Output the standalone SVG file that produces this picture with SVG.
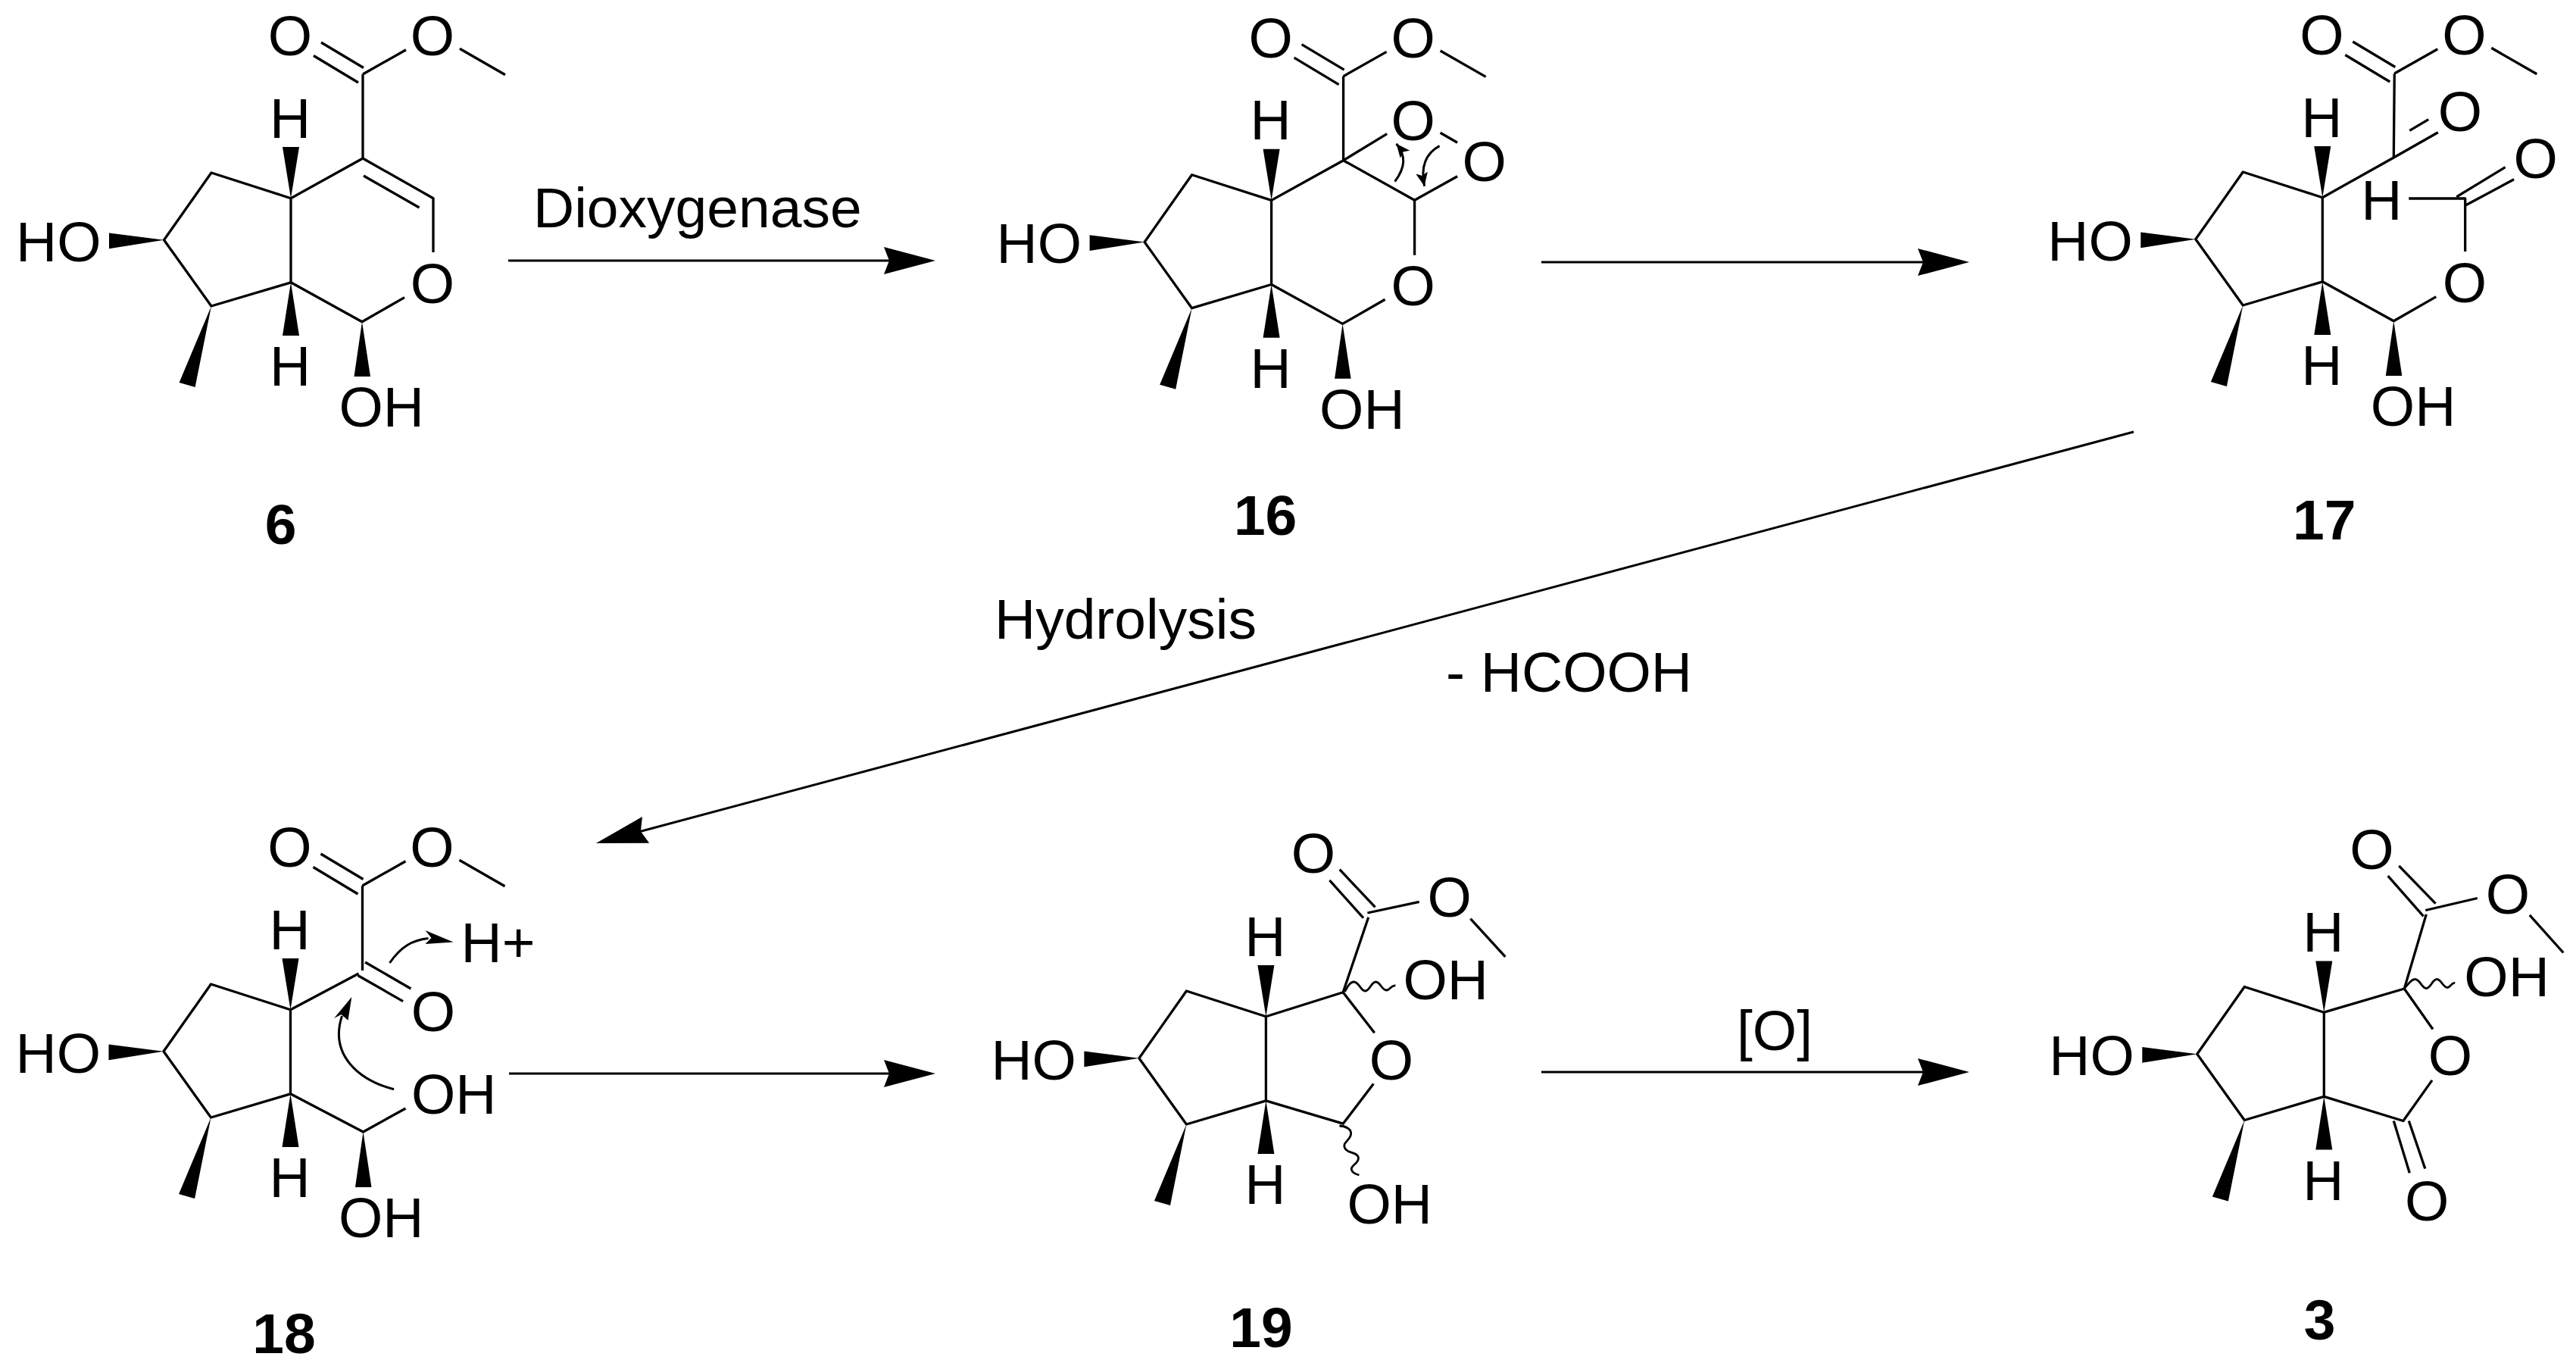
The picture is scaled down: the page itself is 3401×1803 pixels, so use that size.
<svg xmlns="http://www.w3.org/2000/svg" width="3401" height="1803" viewBox="0 0 3401 1803">
<style>
.b{fill:none;stroke:#000;stroke-width:3.3;stroke-linejoin:round}
.w{fill:#000;stroke:none}
.t{font-family:"Liberation Sans",Arial,sans-serif;font-size:75px;fill:#000}
.m{text-anchor:middle}
.n{font-family:"Liberation Sans",Arial,sans-serif;font-size:75px;font-weight:bold;fill:#000;text-anchor:middle}
.c{fill:none;stroke:#000;stroke-width:3}
.r{fill:none;stroke:#000;stroke-width:3.2}
</style>
<defs>
<marker id="head" markerUnits="userSpaceOnUse" markerWidth="72" markerHeight="38" refX="28" refY="18" orient="auto" viewBox="0 0 72 38"><path d="M0,0 L68,18 L0,36 L7,18 Z" fill="#000"/></marker>
<marker id="mini" markerUnits="userSpaceOnUse" markerWidth="20" markerHeight="16" refX="18" refY="8" orient="auto" viewBox="0 0 20 16"><path d="M0,0 L18,8 L0,16 L4,8 Z" fill="#000"/></marker>
</defs>
<rect width="3401" height="1803" fill="#fff"/>

<g id="connectors">
<path class="r" d="M671,344H1195" marker-end="url(#head)"/>
<path class="r" d="M2035,346H2560" marker-end="url(#head)"/>
<path class="r" d="M2817,570L825.600,1102.700" marker-end="url(#head)" style="stroke-width:3"/>
<path class="r" d="M672,1417H1195" marker-end="url(#head)"/>
<path class="r" d="M2035,1415H2560" marker-end="url(#head)"/>
</g>
<g id="reaction-labels">
<text class="t" x="704" y="300">Dioxygenase</text>
<text class="t" x="1313" y="843">Hydrolysis</text>
<text class="t" x="1909" y="913">- HCOOH</text>
<text class="t m" x="2343" y="1386">[O]</text>
</g>

<g id="compound-6" transform="translate(0,0)">
<path class="b" d="M384,261.700L279,228L216.500,316.800L279,404L384,372.800V261.700L479,209L572,261.700V333M480,232L553.500,274M479,98V209M424,56L480,89.500M414,73.500L473,109M479,98L536,65.700M607,64.300L667,98.700M534,392.600L478,424.700L384,372.800"/>
<polygon class="w" points="216.500,316.800 144,307.600 144,328.300"/>
<polygon class="w" points="279,404 236.600,505 257.600,511"/>
<polygon class="w" points="384,261.700 373,194 395,194"/>
<polygon class="w" points="384,372.800 373,443 395,443"/>
<polygon class="w" points="478,424.700 467.500,497 489,497"/>
<text class="t" x="21" y="344.500">HO</text>
<text class="t m" x="383" y="181.500">H</text>
<text class="t m" x="383" y="509">H</text>
<text class="t" x="447.500" y="563">OH</text>
<text class="t m" x="383" y="73">O</text>
<text class="t m" x="571" y="73">O</text>
<text class="t m" x="571" y="400">O</text>
<text class="n" x="370.500" y="718">6</text>
</g>

<g id="compound-16" transform="translate(1294.600,2.700)">
<path class="b" d="M384,261.700L279,228L216.500,316.800L279,404L384,372.800V261.700L479,209L573,261.500V334M479,98V209M424,56L480,89.500M414,73.500L473,109M479,98L536,65.700M607,64.300L667,98.700M534,392.600L478,424.700L384,372.800M479,209L536.600,174M607,172.600L629.500,185.500M573,261.500L629.500,230"/>
<polygon class="w" points="216.500,316.800 144,307.600 144,328.300"/>
<polygon class="w" points="279,404 236.600,505 257.600,511"/>
<polygon class="w" points="384,261.700 373,194 395,194"/>
<polygon class="w" points="384,372.800 373,443 395,443"/>
<polygon class="w" points="478,424.700 467.500,497 489,497"/>
<path class="c" d="M547,237C561,218 562,203 549,187" marker-end="url(#mini)"/>
<path class="c" d="M606,190C587,200 581,218 586,243" marker-end="url(#mini)"/>
<text class="t" x="21" y="344.500">HO</text>
<text class="t m" x="383" y="181.500">H</text>
<text class="t m" x="383" y="509">H</text>
<text class="t" x="447.500" y="563">OH</text>
<text class="t m" x="383" y="73">O</text>
<text class="t m" x="571" y="73">O</text>
<text class="t m" x="571" y="182.400">O</text>
<text class="t m" x="665" y="236.200">O</text>
<text class="t m" x="571" y="400">O</text>
<text class="n" x="376" y="703">16</text>
</g>

<g id="compound-17" transform="translate(2682.300,-1)">
<path class="b" d="M384,261.700L279,228L216.500,316.800L279,404L384,372.800V261.700L478,209M479,98L478,209L536.500,175.700M499,173.400L524,158.700M424,56L480,89.500M414,73.500L473,109M479,98L536,65.700M607,64.300L667,98.700M534,392.600L478,424.700L384,372.800M498,263H572.400V333M561,260.800L625.300,221.700M572.400,272.300L636.800,237.800"/>
<polygon class="w" points="216.500,316.800 144,307.600 144,328.300"/>
<polygon class="w" points="279,404 236.600,505 257.600,511"/>
<polygon class="w" points="384,261.700 373,194 395,194"/>
<polygon class="w" points="384,372.800 373,443 395,443"/>
<polygon class="w" points="478,424.700 467.500,497 489,497"/>
<text class="t" x="21" y="344.500">HO</text>
<text class="t m" x="383" y="181.500">H</text>
<text class="t m" x="383" y="509">H</text>
<text class="t m" x="462" y="291">H</text>
<text class="t" x="447.500" y="563">OH</text>
<text class="t m" x="383" y="73">O</text>
<text class="t m" x="571" y="73">O</text>
<text class="t m" x="565.500" y="173.500">O</text>
<text class="t m" x="665.300" y="235.600">O</text>
<text class="t m" x="571.500" y="400">O</text>
<text class="n" x="386.500" y="713">17</text>
</g>

<g id="compound-18" transform="translate(-0.500,1071)">
<path class="b" d="M384,261.700L279,228L216.500,316.800L279,404L384,372.800V261.700L474,214M479,98V210M424,56L480,89.500M414,73.500L473,109M479,98L536,65.700M607,64.300L667,98.700M536,392L480,423L384,372.800M482.600,199L543,234M473,216.500L532.600,250.600"/>
<polygon class="w" points="216.500,316.800 144,307.600 144,328.300"/>
<polygon class="w" points="279,404 236.600,505 257.600,511"/>
<polygon class="w" points="384,261.700 373,194 395,194"/>
<polygon class="w" points="384,372.800 373,443 395,443"/>
<polygon class="w" points="480,423 469.500,496 491,496"/>
<path class="c" d="M515,200C530,178 545,170 566,167.500"/>
<polygon class="w" points="599,172.500 562,157 570,167 562,175"/>
<path class="c" d="M520.600,366.700C475,355 435,322 452,270"/>
<polygon class="w" points="464.800,245 441.600,273 451,268 460,275.700"/>
<text class="t" x="21" y="344.500">HO</text>
<text class="t m" x="383" y="181.500">H</text>
<text class="t m" x="383" y="509">H</text>
<text class="t" x="609" y="198.500">H+</text>
<text class="t" x="447.500" y="562">OH</text>
<text class="t" x="543.500" y="399">OH</text>
<text class="t m" x="383" y="73">O</text>
<text class="t m" x="571" y="73">O</text>
<text class="t m" x="572.400" y="290">O</text>
<text class="n" x="375.500" y="715">18</text>
</g>

<g id="compound-19" transform="translate(1287.400,1080)">
<path class="b" d="M384,261.700L279,228L216.500,316.800L279,404L384,372.800V261.700L485.800,229.800L519.300,130.700M485.800,229.800L527.300,283.300M526,350.600L485.800,403.200L384,372.800M481.300,67.700L528.200,117.400M468,81.900L512.600,131.700M518,125L586.300,110.300M654,132.600L700,182.800"/>
<path class="b" style="stroke-width:2.800" d="M488,229C492,222 495,216 500,216C507,216 509,228 515,228C521,228 523,216 529,216C535,216 537,227 543,227C548,227 549,220 555,221M481,406C488,406 498,410 496,418C494,426 485,428 488,435C491,443 505,440 506,448C507,456 495,458 497,464C498,468 503,470 507,471"/>
<polygon class="w" points="216.500,316.800 144,307.600 144,328.300"/>
<polygon class="w" points="279,404 236.600,505 257.600,511"/>
<polygon class="w" points="384,261.700 373,194 395,194"/>
<polygon class="w" points="384,372.800 373,443 395,443"/>
<text class="t" x="21" y="344.500">HO</text>
<text class="t m" x="383" y="181.500">H</text>
<text class="t m" x="383" y="509">H</text>
<text class="t" x="565" y="239">OH</text>
<text class="t" x="491" y="535">OH</text>
<text class="t m" x="446.500" y="72">O</text>
<text class="t m" x="626.400" y="130">O</text>
<text class="t m" x="549.600" y="345">O</text>
<text class="n" x="377.500" y="698">19</text>
</g>

<g id="compound-3" transform="translate(2684.300,1074.500)">
<path class="b" d="M384,261.700L279,228L216.500,316.800L279,404L384,372.800V261.700L490,230.500L519,132.400M490,230.500L527.700,284M526.700,351.400L488.600,405L384,372.800M483,68.400L531.300,118.200M468.400,81.700L515.300,134.800M518,127L586.500,111M655.500,133.400L700,183M476,405L497,473.700M496,405L517.500,468"/>
<path class="b" style="stroke-width:2.800" d="M490,230C496,224 499,218 504,218C511,218 513,230 519,230C525,230 527,218 533,218C539,218 541,229 547,229C551,229 552,222 557,223"/>
<polygon class="w" points="216.500,316.800 144,307.600 144,328.300"/>
<polygon class="w" points="279,404 236.600,505 257.600,511"/>
<polygon class="w" points="384,261.700 373,194 395,194"/>
<polygon class="w" points="384,372.800 373,443 395,443"/>
<text class="t" x="21" y="344.500">HO</text>
<text class="t m" x="383" y="181.500">H</text>
<text class="t m" x="383" y="509">H</text>
<text class="t" x="569" y="240">OH</text>
<text class="t m" x="447.200" y="72.500">O</text>
<text class="t m" x="626.500" y="131">O</text>
<text class="t m" x="550.700" y="344">O</text>
<text class="t m" x="519.800" y="536">O</text>
<text class="n" x="378.300" y="693.500">3</text>
</g>
</svg>
